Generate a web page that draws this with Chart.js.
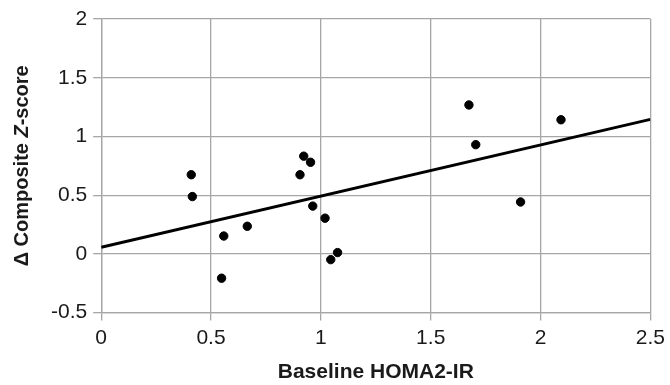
<!DOCTYPE html>
<html>
<head>
<meta charset="utf-8">
<script src="https://cdn.jsdelivr.net/npm/chart.js@4"></script>
<style>
  html, body { margin: 0; padding: 0; background: #fff; }
  #wrap { width: 670px; height: 385px; }
</style>
</head>
<body>
<div id="wrap"><canvas id="chart" width="670" height="385"></canvas></div>
<script>
// Baseline HOMA2-IR vs change in composite Z-score
const homaX = [0.41, 0.415, 0.558, 0.548, 0.665, 0.905, 0.922, 0.953, 0.963, 1.019, 1.045, 1.076, 1.674, 1.705, 1.909, 2.093];
const zDelta = [0.674, 0.488, 0.152, -0.207, 0.235, 0.674, 0.832, 0.780, 0.407, 0.304, -0.049, 0.011, 1.268, 0.930, 0.442, 1.142];

// trend line ends
const trendX = [0, 2.5];
const trendY = [0.057, 1.145];

const xTicks = [0, 0.5, 1, 1.5, 2, 2.5];
const yTicks = [-0.5, 0, 0.5, 1, 1.5, 2];

const FONT = "'Liberation Sans', Arial, sans-serif";

// y title has italic "Z", so draw it by hand over a transparent placeholder
const yTitlePlugin = {
  id: 'yTitle',
  afterDraw(chart) {
    const ctx = chart.ctx;
    const area = chart.chartArea;
    const parts = [
      { t: 'Δ Composite ', f: 'bold 20px ' + FONT },
      { t: 'Z', f: 'italic bold 20px ' + FONT },
      { t: '-score', f: 'bold 20px ' + FONT },
    ];
    let total = 0;
    parts.forEach(p => { ctx.font = p.f; p.w = ctx.measureText(p.t).width; total += p.w; });
    ctx.save();
    ctx.translate(22, (area.top + area.bottom) / 2);
    ctx.rotate(-Math.PI / 2);
    ctx.fillStyle = '#1a1a1a';
    ctx.textBaseline = 'middle';
    let x = -total / 2;
    parts.forEach(p => { ctx.font = p.f; ctx.fillText(p.t, x, 0); x += p.w; });
    ctx.restore();
  }
};

const points = homaX.map((x, i) => ({ x, y: zDelta[i] }));
const trend = trendX.map((x, i) => ({ x, y: trendY[i] }));

new Chart(document.getElementById('chart'), {
  type: 'scatter',
  data: {
    datasets: [
      {
        label: 'data',
        data: points,
        backgroundColor: '#000',
        borderColor: '#000',
        pointRadius: 4.2,
        pointHoverRadius: 4.2,
      },
      {
        label: 'trend',
        type: 'line',
        data: trend,
        borderColor: '#000',
        borderWidth: 3,
        pointRadius: 0,
        fill: false,
      },
    ],
  },
  options: {
    responsive: false,
    animation: false,
    layout: { padding: { left: 15, right: 11, top: 19, bottom: 0 } },
    plugins: { legend: { display: false }, tooltip: { enabled: false } },
    scales: {
      x: {
        type: 'linear',
        min: 0, max: 2.5,
        afterBuildTicks: ax => { ax.ticks = xTicks.map(v => ({ value: v })); },
        grid: { color: '#a6a6a6', lineWidth: 1.3, tickLength: 8 },
        border: { color: '#a6a6a6', width: 1.3 },
        ticks: { color: '#1a1a1a', font: { family: FONT, size: 21 }, padding: 5, callback: v => String(v) },
        title: { display: true, text: 'Baseline HOMA2-IR', color: '#1a1a1a', font: { family: FONT, size: 21, weight: 'bold' }, padding: { top: 4, bottom: 0 } },
      },
      y: {
        type: 'linear',
        min: -0.5, max: 2,
        afterBuildTicks: ax => { ax.ticks = yTicks.map(v => ({ value: v })); },
        grid: { color: '#a6a6a6', lineWidth: 1.3, tickLength: 8 },
        border: { color: '#a6a6a6', width: 1.3 },
        ticks: { color: '#1a1a1a', font: { family: FONT, size: 21 }, padding: 6, callback: v => String(v) },
        title: { display: true, text: 'Δ Composite Z-score', color: 'transparent', font: { family: FONT, size: 20, weight: 'bold' }, padding: { top: 0, bottom: 6 } },
      },
    },
  },
  plugins: [yTitlePlugin],
});
</script>
</body>
</html>
